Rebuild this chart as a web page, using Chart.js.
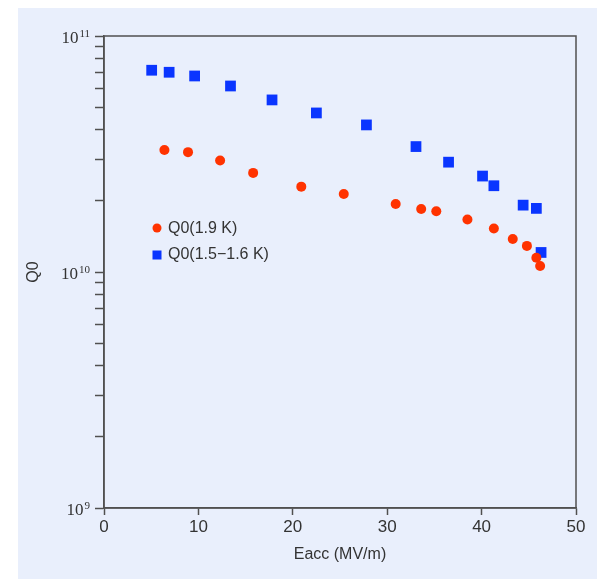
<!DOCTYPE html>
<html>
<head>
<meta charset="utf-8">
<script src="https://cdn.jsdelivr.net/npm/chart.js@4.4.1/dist/chart.umd.min.js"></script>
<style>
html, body { margin: 0; padding: 0; background: #fff; }
</style>
</head>
<body>
<canvas id="q0Chart" width="597" height="579"></canvas>
<script>
// Eacc in MV/m and Q0
var eacc19 = [6.4, 8.9, 12.3, 15.8, 20.9, 25.4, 30.9, 33.6, 35.2, 38.5, 41.3, 43.3, 44.8, 45.8, 46.2];
var q019 = [3.29e10, 3.22e10, 2.97e10, 2.63e10, 2.30e10, 2.14e10, 1.94e10, 1.85e10, 1.81e10, 1.67e10, 1.53e10, 1.38e10, 1.29e10, 1.15e10, 1.06e10];
var eacc15 = [5.05, 6.9, 9.6, 13.4, 17.8, 22.5, 27.8, 33.05, 36.5, 40.1, 41.3, 44.4, 45.8, 46.3];
var q015 = [7.16e10, 7.02e10, 6.77e10, 6.14e10, 5.36e10, 4.72e10, 4.20e10, 3.40e10, 2.92e10, 2.55e10, 2.32e10, 1.92e10, 1.86e10, 1.21e10];
var seriesLabels = ['Q0(1.9 K)', 'Q0(1.5\u22121.6 K)'];
var xTicks = [0, 10, 20, 30, 40, 50];
var yExponents = [9, 10, 11];

var narrow = '"Liberation Sans Narrow", "Arial Narrow", "Liberation Sans", sans-serif';
var red = '#ff3300';
var blue = '#0a35ff';
var axisColor = '#505050';
var textColor = '#333333';

function toPoints(xs, ys) {
	var pts = [];
	for (var i = 0; i < xs.length; i++) pts.push({ x: xs[i], y: ys[i] });
	return pts;
}

var panelPlugin = {
	id: 'panel',
	beforeDraw: function (chart) {
		var ctx = chart.ctx;
		ctx.save();
		ctx.fillStyle = '#ffffff';
		ctx.fillRect(0, 0, chart.width, chart.height);
		ctx.fillStyle = '#e9effc';
		ctx.fillRect(18, 8, chart.width - 18, chart.height - 8);
		ctx.restore();
	},
	afterDraw: function (chart) {
		var ctx = chart.ctx;
		var a = chart.chartArea;
		ctx.save();
		ctx.strokeStyle = axisColor;
		ctx.lineWidth = 1.5;
		ctx.strokeRect(a.left, a.top, a.right - a.left, a.bottom - a.top);

		// y labels as 10 with a raised exponent
		var ys = chart.scales.y;
		ctx.fillStyle = textColor;
		ctx.textBaseline = 'alphabetic';
		yExponents.forEach(function (e) {
			var py = ys.getPixelForValue(Math.pow(10, e));
			var right = a.left - 14;
			ctx.font = '11px "Liberation Serif", serif';
			ctx.textAlign = 'right';
			var ew = ctx.measureText(String(e)).width;
			ctx.fillText(String(e), right, py + 1);
			ctx.font = '17px "Liberation Serif", serif';
			ctx.fillText('10', right - ew - 1, py + 7);
		});

		// legend inside the plot
		var ds = chart.data.datasets;
		ctx.font = '16px ' + narrow;
		ctx.textAlign = 'left';
		ctx.textBaseline = 'middle';
		ctx.fillStyle = ds[0].backgroundColor;
		ctx.beginPath();
		ctx.arc(157, 228, 4.5, 0, Math.PI * 2);
		ctx.fill();
		ctx.fillStyle = ds[1].backgroundColor;
		ctx.fillRect(152.5, 250.5, 9, 9);
		ctx.fillStyle = textColor;
		ctx.fillText(ds[0].label, 168, 229);
		ctx.fillText(ds[1].label, 168, 255);
		ctx.restore();
	}
};

var q0Chart = new Chart(document.getElementById('q0Chart'), {
	type: 'scatter',
	data: {
		datasets: [
			{
				label: seriesLabels[0],
				data: toPoints(eacc19, q019),
				pointStyle: 'circle',
				pointRadius: 5,
				backgroundColor: red,
				borderColor: red,
				borderWidth: 0
			},
			{
				label: seriesLabels[1],
				data: toPoints(eacc15, q015),
				pointStyle: 'rect',
				pointRadius: 7.6,
				backgroundColor: blue,
				borderColor: blue,
				borderWidth: 0
			}
		]
	},
	options: {
		responsive: false,
		animation: false,
		layout: { padding: { top: 36, right: 21, left: 24, bottom: 0 } },
		plugins: {
			legend: { display: false },
			tooltip: { enabled: false }
		},
		scales: {
			x: {
				type: 'linear',
				min: 0,
				max: 50,
				afterBuildTicks: function (axis) {
					axis.ticks = xTicks.map(function (v) { return { value: v }; });
				},
				afterFit: function (axis) { axis.height = 71; },
				grid: { drawOnChartArea: false, tickLength: 7, color: axisColor, tickWidth: 1.5 },
				border: { display: true, color: axisColor, width: 1.5 },
				ticks: { color: textColor, font: { family: narrow, size: 17 }, padding: 2, maxRotation: 0 },
				title: { display: true, text: 'Eacc (MV/m)', color: textColor, font: { family: narrow, size: 16 }, padding: { top: 0, bottom: 15 } }
			},
			y: {
				type: 'logarithmic',
				min: 1e9,
				max: 1e11,
				afterBuildTicks: function (axis) {
					var t = [];
					for (var e = 9; e < 11; e++) {
						for (var m = 1; m < 10; m++) t.push({ value: m * Math.pow(10, e) });
					}
					t.push({ value: 1e11 });
					axis.ticks = t;
				},
				afterFit: function (axis) { axis.width = 80; },
				grid: { drawOnChartArea: false, tickLength: 9, color: axisColor, tickWidth: 1.5 },
				border: { display: true, color: axisColor, width: 1.5 },
				ticks: { autoSkip: false, callback: function () { return ''; } },
				title: { display: true, text: 'Q0', color: textColor, font: { family: narrow, size: 16 }, padding: { top: 0, bottom: 0 } }
			}
		}
	},
	plugins: [panelPlugin]
});
</script>
</body>
</html>
